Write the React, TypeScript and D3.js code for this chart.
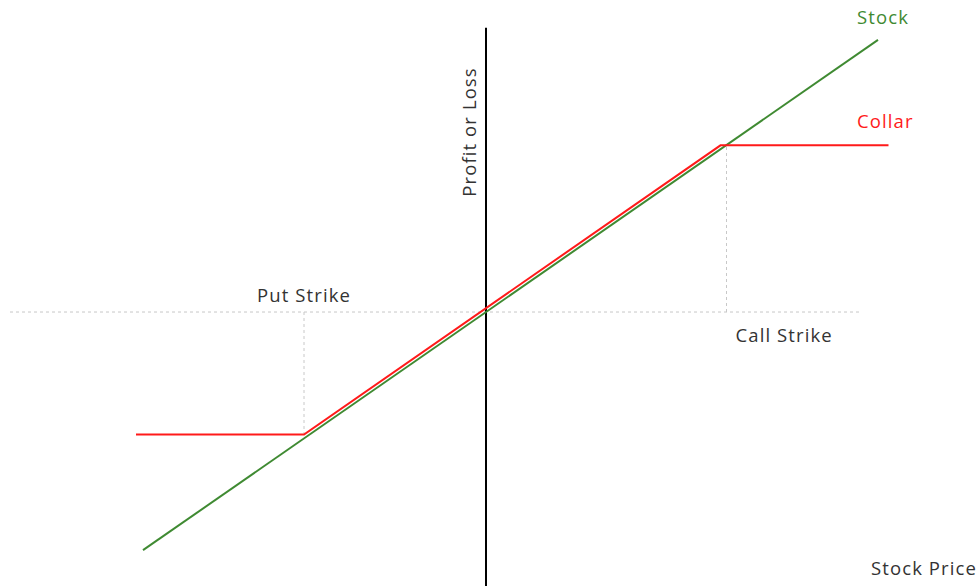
import React from 'react';
import * as d3 from 'd3';

// price relative to purchase price, P/L in the same units
const stockPrices = [-98, 112];
const putStrike = -52;
const callStrike = 67;
const netCredit = 1.6;
const collarPrices = [-100, putStrike, callStrike, 115];
const axisExtent = [-136, 107];

const labels = {
  stock: 'Stock',
  collar: 'Collar',
  put: 'Put Strike',
  call: 'Call Strike',
  xTitle: 'Stock Price',
  yTitle: 'Profit or Loss'
};

const collarPayoff = (p: number) =>
  Math.min(Math.max(p, putStrike), callStrike) + netCredit;

const App: React.FC = () => {
  const ref = React.useRef<HTMLDivElement>(null);

  React.useEffect(() => {
    document.body.style.margin = '0';
    const width = 979;
    const height = 586;

    d3.select(ref.current).selectAll('*').remove();

    const svg = d3
      .select(ref.current)
      .append('svg')
      .attr('width', width)
      .attr('height', height)
      .style('display', 'block')
      .style('font-family', "'Open Sans', sans-serif");

    const x = d3.scaleLinear().domain([-136, 140]).range([10, 976]);
    const y = d3.scaleLinear().domain([-112, 117]).range([584.2, 27.7]);

    const grid = '#c8c8c8';

    // zero line
    svg
      .append('line')
      .attr('x1', x(axisExtent[0]))
      .attr('x2', x(axisExtent[1]))
      .attr('y1', y(0))
      .attr('y2', y(0))
      .attr('stroke', grid)
      .attr('stroke-width', 1)
      .attr('stroke-dasharray', '3,3');

    // strike guides
    svg
      .append('line')
      .attr('x1', x(putStrike))
      .attr('x2', x(putStrike))
      .attr('y1', y(0))
      .attr('y2', y(collarPayoff(putStrike)))
      .attr('stroke', grid)
      .attr('stroke-dasharray', '3,3');

    svg
      .append('line')
      .attr('x1', x(callStrike) + 6)
      .attr('x2', x(callStrike) + 6)
      .attr('y1', y(0))
      .attr('y2', y(collarPayoff(callStrike)))
      .attr('stroke', grid)
      .attr('stroke-dasharray', '3,3');

    // vertical axis
    svg
      .append('line')
      .attr('x1', x(0))
      .attr('x2', x(0))
      .attr('y1', y(117))
      .attr('y2', height)
      .attr('stroke', '#000')
      .attr('stroke-width', 2);

    const line = d3
      .line<number>()
      .x((d: number) => x(d))
      .y((d: number) => y(d));

    svg
      .append('path')
      .datum(stockPrices)
      .attr('fill', 'none')
      .attr('stroke', '#3f8a32')
      .attr('stroke-width', 2)
      .attr('d', line);

    svg
      .append('path')
      .datum(collarPrices)
      .attr('fill', 'none')
      .attr('stroke', '#ff1a1a')
      .attr('stroke-width', 2)
      .attr('d', line.y((d: number) => y(collarPayoff(d))));

    const text = (t: string, tx: number, ty: number, color: string, anchor = 'start') =>
      svg
        .append('text')
        .attr('x', tx)
        .attr('y', ty)
        .attr('fill', color)
        .attr('font-size', 18.5)
        .attr('letter-spacing', 1.1)
        .attr('text-anchor', anchor)
        .text(t);

    text(labels.stock, 857, 24, '#3f8a32');
    text(labels.collar, 857, 128, '#ff1a1a');
    text(labels.put, x(putStrike), 302, '#333', 'middle');
    text(labels.call, x(callStrike) + 15, 342, '#333');
    text(labels.xTitle, 871, 575, '#333');

    svg
      .append('text')
      .attr('transform', `translate(${x(0) - 10},132) rotate(-90)`)
      .attr('fill', '#333')
      .attr('font-size', 18.5)
      .attr('letter-spacing', 1.1)
      .attr('text-anchor', 'middle')
      .text(labels.yTitle);
  }, []);

  return <div ref={ref}></div>;
};

export default App;
